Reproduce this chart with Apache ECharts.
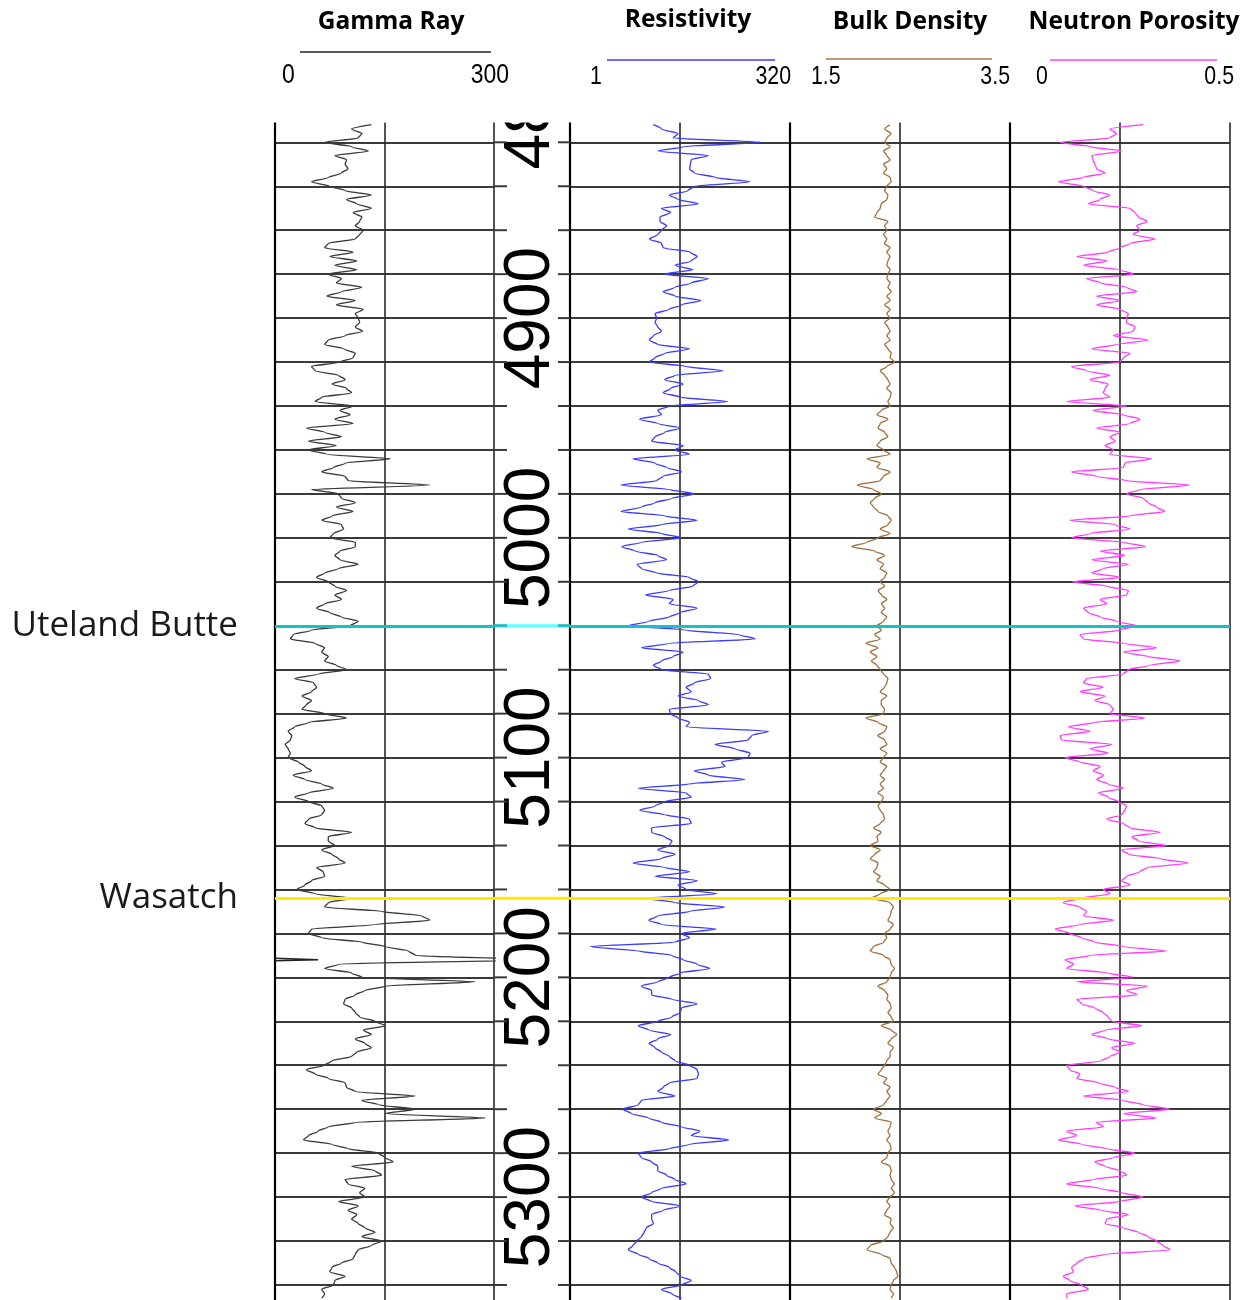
<!DOCTYPE html>
<html><head><meta charset="utf-8">
<script src="https://cdn.jsdelivr.net/npm/echarts@6/dist/echarts.min.js"></script>
<style>html,body{margin:0;padding:0;background:#fff}#c{width:1251px;height:1300px}</style>
</head><body><div id="c"></div>
<script>
// ---- data ----
const DEPTH_START = 4812, DEPTH_STEP = 2;   // ft, sampling of the curves below
const GR = [
132,105,119,114,68,105,128,82,98,96,
100,91,73,50,75,96,132,98,112,132,
107,119,116,110,121,116,110,73,68,107,
75,112,82,112,73,91,84,119,91,71,
110,84,121,110,114,116,110,120,96,73,
68,94,110,107,89,50,55,87,96,78,
98,105,64,55,107,89,103,82,107,43,
68,91,46,84,46,71,158,96,80,64,
96,100,212,50,87,91,110,84,107,78,
64,91,94,80,75,110,110,89,82,89,
114,87,68,57,73,82,98,82,91,68,
57,75,91,114,103,50,25,21,55,68,
64,73,68,84,98,59,27,53,57,50,
37,50,43,37,68,98,46,27,18,23,
21,14,18,21,18,32,41,50,25,41,
64,80,46,27,46,64,68,64,46,41,
55,105,73,73,82,64,78,87,96,57,
66,68,50,41,30,55,105,73,68,146,
201,212,137,50,46,64,119,151,183,192,
359,87,68,105,119,274,151,123,110,96,
94,105,110,116,137,151,121,132,110,123,
132,112,105,78,68,43,55,73,96,98,
110,192,119,142,192,151,288,110,73,59,
46,39,78,100,142,151,162,105,137,146,
96,100,123,116,123,87,114,100,112,105,
114,123,137,119,146,132,114,110,107,91,
78,75,96,82,80,64,68,64];
const RES = [
8.9,11,17,15,150,20,10,37.6,24,23.5,
23,26,45,112,26,22,13.5,17,29,11,
14,10.6,10.6,12.6,11,10,8,11,11.5,23.5,
28,24,15.7,25,12,37.6,24,15.7,11.5,15.7,
31,18.6,13.5,9.3,9.7,9.3,10,11,8.9,8,
10,23,12,9.3,8,21,55,15.7,12,19.5,
14,11.5,18,62,13.5,10,11,6.2,10,18,
12,9.3,8.5,19.5,15.7,23,5.2,9.3,12.6,18.6,
11.5,9.7,3.8,13.5,26,14.5,9.3,6.5,3.8,12,
28,11,4.6,11,18.6,6.5,3.9,5.5,10,12.6,
5.8,6.5,9.7,23,29,25,13.5,7.2,15,13.5,
28,18,13.5,7.9,4.6,21,83,128,13.5,6.5,
19.5,15,11,8.9,11,37.6,40,26,21,24,
17,29,37.6,13.5,14,17,23,21,182,117,
107,45,76,112,107,53,58,26,37.6,98,
23,6,21,24,12,9.3,6.2,12,23,24,
8.5,8.5,12,14.5,13.5,10,15.7,11,5.2,12,
23,9.3,28,17,21,47,7.2,15.7,58,23,
10,7.9,11,46,18.6,23,15.7,1.7,6,14.5,
19.5,28,39,18,13.5,10,6.5,8.5,8.5,14.5,
28,18.6,18,14.5,10,6,7.9,14,10,8,
9.3,11,13.5,15.7,23,28,29,28,13.5,11.5,
10,15.7,6.5,6,4,5,7.9,11,18.6,30,
24,64,23,13.5,6,6.5,8.5,10,10,12.6,
15.7,21,11,8.5,6.5,8.5,18,11.5,8.5,8.5,
8.9,7.4,7,6.5,5.8,5.2,4.6,6,8,10,
13.5,16,18,24,18.6,11,14.5,18.6];
const RHOB = [
2.41,2.36,2.42,2.38,2.36,2.41,2.35,2.38,2.41,2.35,
2.38,2.35,2.41,2.42,2.38,2.36,2.39,2.38,2.33,2.32,
2.29,2.27,2.39,2.36,2.38,2.35,2.38,2.36,2.41,2.38,
2.41,2.39,2.38,2.41,2.39,2.38,2.41,2.39,2.42,2.38,
2.41,2.36,2.41,2.38,2.41,2.36,2.39,2.41,2.38,2.41,
2.36,2.39,2.42,2.41,2.45,2.38,2.32,2.36,2.39,2.41,
2.38,2.42,2.41,2.39,2.41,2.33,2.29,2.39,2.32,2.30,
2.36,2.39,2.32,2.29,2.35,2.41,2.20,2.32,2.29,2.41,
2.35,2.32,2.11,2.26,2.33,2.27,2.23,2.26,2.30,2.39,
2.42,2.39,2.32,2.41,2.30,2.20,2.06,2.27,2.36,2.29,
2.35,2.32,2.38,2.36,2.32,2.36,2.30,2.33,2.38,2.33,
2.36,2.33,2.38,2.35,2.29,2.33,2.27,2.32,2.19,2.30,
2.23,2.29,2.24,2.29,2.32,2.35,2.39,2.38,2.36,2.32,
2.38,2.33,2.33,2.36,2.35,2.19,2.30,2.38,2.36,2.30,
2.36,2.38,2.32,2.38,2.35,2.32,2.38,2.35,2.32,2.36,
2.32,2.35,2.30,2.35,2.33,2.30,2.32,2.35,2.36,2.32,
2.26,2.33,2.29,2.30,2.23,2.32,2.27,2.23,2.30,2.29,
2.26,2.32,2.29,2.36,2.41,2.32,2.24,2.41,2.44,2.42,
2.41,2.39,2.44,2.41,2.36,2.38,2.35,2.26,2.23,2.35,
2.41,2.42,2.45,2.42,2.41,2.38,2.30,2.36,2.39,2.38,
2.41,2.42,2.39,2.42,2.44,2.33,2.42,2.47,2.42,2.39,
2.44,2.41,2.41,2.38,2.36,2.33,2.30,2.38,2.35,2.41,
2.38,2.41,2.38,2.35,2.26,2.33,2.27,2.42,2.41,2.39,
2.41,2.38,2.41,2.42,2.39,2.38,2.33,2.41,2.42,2.41,
2.42,2.45,2.42,2.45,2.41,2.38,2.41,2.38,2.36,2.42,
2.41,2.44,2.41,2.39,2.35,2.23,2.20,2.33,2.41,2.42,
2.45,2.47,2.48,2.44,2.42,2.41,2.44,2.42];
const NPHI = [
.303,.227,.242,.227,.114,.182,.254,.186,.189,.193,
.197,.216,.167,.110,.167,.189,.227,.205,.178,.273,
.284,.292,.311,.288,.295,.280,.330,.273,.250,.223,
.152,.220,.167,.250,.280,.174,.205,.265,.288,.197,
.250,.197,.250,.269,.265,.265,.284,.280,.235,.314,
.242,.186,.273,.258,.250,.140,.174,.227,.182,.223,
.216,.212,.227,.129,.265,.189,.258,.295,.273,.197,
.250,.227,.239,.216,.235,.227,.322,.261,.258,.140,
.197,.265,.409,.295,.265,.303,.314,.333,.352,.273,
.136,.239,.273,.182,.140,.258,.307,.205,.261,.186,
.269,.212,.186,.250,.142,.220,.269,.265,.205,.220,
.167,.178,.205,.242,.288,.250,.159,.167,.258,.333,
.258,.314,.386,.318,.269,.258,.174,.167,.212,.159,
.216,.193,.227,.235,.227,.307,.193,.133,.182,.114,
.117,.231,.182,.223,.125,.159,.205,.189,.212,.197,
.223,.258,.201,.223,.246,.265,.261,.254,.220,.258,
.273,.341,.277,.292,.356,.254,.269,.341,.405,.311,
.295,.265,.254,.273,.212,.227,.159,.121,.159,.174,
.167,.235,.159,.102,.136,.163,.193,.258,.356,.182,
.125,.144,.129,.220,.280,.152,.311,.265,.288,.152,
.163,.193,.212,.223,.231,.299,.216,.186,.223,.284,
.231,.250,.227,.208,.129,.136,.159,.152,.201,.239,
.269,.167,.258,.303,.362,.258,.333,.197,.212,.129,
.152,.110,.163,.220,.284,.235,.193,.216,.250,.265,
.189,.129,.205,.254,.303,.250,.148,.208,.269,.220,
.216,.258,.292,.314,.333,.348,.364,.216,.167,.152,
.140,.144,.121,.136,.163,.178,.129,.129];

const GR_SCALE = [0, 300];
const RES_SCALE = [1, 320];
const RHOB_SCALE = [1.5, 3.5];
const NPHI_SCALE = [0, 0.5];
const TRACK_TITLES = ['Gamma Ray', 'Resistivity', 'Bulk Density', 'Neutron Porosity'];
const DEPTH_TICKS = [4800,4820,4840,4860,4880,4900,4920,4940,4960,4980,5000,5020,5040,5060,5080,
  5100,5120,5140,5160,5180,5200,5220,5240,5260,5280,5300,5320,5340,5360];
const DEPTH_LABEL_EVERY = 100;
const TOPS_NAME = ['Uteland Butte', 'Wasatch'];
const TOPS_DEPTH = [5040, 5164];

// ---- styling / layout ----
const TOPS_COLOR = ['#17c2c6', '#ffec00'];
const TOPS_GAP_COLOR = ['#5cffff', '#ffec00'];
const Y_MIN = 4800, Y_MAX = 5360;
const GRID_TOP = 98.35, GRID_H = 1230.6;
const TRACKS = [
  {left: 275, width: 219},
  {left: 494, width: 76},
  {left: 570, width: 220},
  {left: 790, width: 220},
  {left: 1010, width: 220}
];
const GRID_COLOR = '#3a3a3a';
const SMOOTH = 0.25;

const DEPTH = GR.map((_, i) => DEPTH_START + i * DEPTH_STEP);

function frameX(gi) {
  return {gridIndex: gi, type: 'value', min: 0, max: 2, interval: 1, position: 'top',
    axisLine: {show: false}, axisTick: {show: false}, axisLabel: {show: false},
    splitLine: {show: true, lineStyle: {color: '#2a2a2a', width: 1.6}}};
}
function dataX(gi, type, scale) {
  const a = {gridIndex: gi, type: type, min: scale[0], max: scale[1], position: 'bottom', show: false};
  if (type === 'log') a.logBase = 10;
  return a;
}
function yA(gi, isTrack) {
  return {gridIndex: gi, type: 'value', inverse: true, min: Y_MIN, max: Y_MAX, interval: 20,
    axisLabel: {show: false}, axisTick: {show: false},
    axisLine: {show: isTrack, onZero: false, lineStyle: {color: '#000', width: 2.2}},
    splitLine: {show: isTrack, lineStyle: {color: GRID_COLOR, width: 2}}};
}
function topsMark(withLabels) {
  return {
    silent: true, symbol: ['none', 'none'], animation: false, precision: 4,
    label: {show: withLabels, position: 'start', formatter: '{b}', distance: 37,
      fontFamily: '"Open Sans", "Noto Sans", sans-serif', fontSize: 35, color: '#1a1a1a',
      padding: [0, 0, 8, 0]},
    emphasis: {disabled: true},
    data: TOPS_DEPTH.map((d, i) => ({name: TOPS_NAME[i], yAxis: d,
      lineStyle: {color: TOPS_COLOR[i], width: 3, type: 'solid'}}))
  };
}
function curve(name, xi, yi, vals, color, width, labels) {
  return {name: name, type: 'line', xAxisIndex: xi, yAxisIndex: yi,
    data: vals.map((v, i) => [v, DEPTH[i]]), showSymbol: false, symbol: 'none',
    smooth: SMOOTH, smoothMonotone: 'y',
    lineStyle: {color: color, width: width}, silent: true, animation: false, z: 3,
    clip: true, markLine: topsMark(labels)};
}

// gamma-ray backup (wrap-around) curve for values above the scale maximum
const GR_WRAP = [];
for (let i = 0; i < GR.length; i++) {
  if (GR[i] > GR_SCALE[1]) {
    if (i > 0 && GR[i - 1] <= GR_SCALE[1]) {
      const t = (GR_SCALE[1] - GR[i - 1]) / (GR[i] - GR[i - 1]);
      GR_WRAP.push([0, DEPTH[i - 1] + t * (DEPTH[i] - DEPTH[i - 1])]);
    }
    GR_WRAP.push([GR[i] - GR_SCALE[1], DEPTH[i]]);
    if (i < GR.length - 1 && GR[i + 1] <= GR_SCALE[1]) {
      const t = (GR[i] - GR_SCALE[1]) / (GR[i] - GR[i + 1]);
      GR_WRAP.push([0, DEPTH[i] + t * (DEPTH[i + 1] - DEPTH[i])]);
    }
  }
}

const TITLE_FONT = '"Open Sans", "Noto Sans", sans-serif';
const NUM_FONT = '"Liberation Sans", Arial, sans-serif';
const header = [
  {type: 'rect', shape: {x: 0, y: 0, width: 1251, height: 122.5}, style: {fill: '#fff'}, z: 100, silent: true}
];
const titlePos = [[391, 22], [688, 20], [910, 22], [1134, 22]];
TRACK_TITLES.forEach((t, i) => header.push({type: 'text', x: titlePos[i][0], y: titlePos[i][1], z: 101,
  style: {text: t, fontFamily: TITLE_FONT, fontWeight: 'bold', fontSize: 24.5, fill: '#000', align: 'center', verticalAlign: 'middle'}}));
const under = [[300, 491, 52, '#222'], [607, 775, 60, '#3b3bff'], [826, 992, 59, '#a37a55'], [1050, 1217, 60, '#ff44ff']];
under.forEach(u => header.push({type: 'line', z: 101, shape: {x1: u[0], y1: u[2], x2: u[1], y2: u[2]}, style: {stroke: u[3], lineWidth: 1.5}}));
const scales = [GR_SCALE, RES_SCALE, RHOB_SCALE, NPHI_SCALE];
const scalePos = [[282, 509, 75, 28], [590, 791, 77, 26], [811, 1010, 77, 26], [1036, 1234, 77, 26]];
scales.forEach((s, i) => {
  const p = scalePos[i];
  header.push({type: 'text', x: p[0], y: p[2], z: 101, scaleX: 0.82, style: {text: String(s[0]), fontFamily: NUM_FONT, fontSize: p[3], fill: '#000', align: 'left', verticalAlign: 'middle'}});
  header.push({type: 'text', x: p[1], y: p[2], z: 101, scaleX: 0.82, style: {text: String(s[1]), fontFamily: NUM_FONT, fontSize: p[3], fill: '#000', align: 'right', verticalAlign: 'middle'}});
});
const n = GR.length;
if (RES.length !== n || RHOB.length !== n || NPHI.length !== n) {
  header.push({type: 'text', x: 20, y: 110, z: 102, style: {text: 'LEN ' + [GR.length, RES.length, RHOB.length, NPHI.length].join(','), fill: 'red', fontSize: 14}});
}

const chart = echarts.init(document.getElementById('c'), null, {renderer: 'canvas'});
chart.setOption({
  animation: false,
  backgroundColor: '#fff',
  grid: TRACKS.map(t => ({left: t.left, width: t.width, top: GRID_TOP, height: GRID_H, containLabel: false, outerBoundsMode: 'none'})),
  xAxis: [
    frameX(0), dataX(0, 'value', GR_SCALE),
    {gridIndex: 1, type: 'value', min: 0, max: 1, show: false},
    frameX(2), dataX(2, 'log', RES_SCALE),
    frameX(3), dataX(3, 'value', RHOB_SCALE),
    frameX(4), dataX(4, 'value', NPHI_SCALE)
  ],
  yAxis: [yA(0, true), yA(1, false), yA(2, true), yA(3, true), yA(4, true)],
  series: [
    curve('Gamma Ray', 1, 0, GR, '#3a3a3a', 1.3, true),
    {name: 'Gamma Ray backup', type: 'line', xAxisIndex: 1, yAxisIndex: 0, data: GR_WRAP,
      showSymbol: false, symbol: 'none', lineStyle: {color: '#222', width: 1.6}, silent: true, animation: false, z: 3},
    curve('Resistivity', 4, 2, RES, '#3c3cff', 1.3, false),
    curve('Bulk Density', 6, 3, RHOB, '#a0703e', 1.3, false),
    curve('Neutron Porosity', 8, 4, NPHI, '#ff3cff', 1.3, false),
    {
      type: 'custom', name: 'depth', xAxisIndex: 2, yAxisIndex: 1, silent: true, animation: false, z: 4,
      data: DEPTH_TICKS.map(d => [0.5, d]), encode: {x: 0, y: 1},
      renderItem: function (params, api) {
        const d = api.value(1);
        const y = api.coord([0.5, d])[1];
        const cs = params.coordSys;
        const children = [
          {type: 'line', shape: {x1: cs.x, y1: y, x2: cs.x + 13, y2: y}, style: {stroke: GRID_COLOR, lineWidth: 2}},
          {type: 'line', shape: {x1: cs.x + cs.width - 12, y1: y, x2: cs.x + cs.width, y2: y}, style: {stroke: GRID_COLOR, lineWidth: 2}}
        ];
        if (d % DEPTH_LABEL_EVERY === 0) {
          children.push({type: 'text', x: cs.x + cs.width / 2 - 1, y: y, rotation: Math.PI / 2,
            style: {text: String(d), fontFamily: '"Liberation Sans", Arial, sans-serif', fontSize: 64,
              fill: '#000', align: 'center', verticalAlign: 'middle'}});
        }
        return {type: 'group', children: children};
      }
    },
    {
      type: 'custom', name: 'tops-depth', xAxisIndex: 2, yAxisIndex: 1, silent: true, animation: false, z: 5,
      data: TOPS_DEPTH.map((d, i) => [0.5, d, i]), encode: {x: 0, y: 1},
      renderItem: function (params, api) {
        const d = api.value(1), k = api.value(2);
        const y = api.coord([0.5, d])[1];
        const cs = params.coordSys;
        return {type: 'group', children: [
          {type: 'line', shape: {x1: cs.x, y1: y, x2: cs.x + 13, y2: y}, style: {stroke: TOPS_COLOR[k], lineWidth: 3}},
          {type: 'line', shape: {x1: cs.x + 13, y1: y, x2: cs.x + cs.width - 12, y2: y}, style: {stroke: TOPS_GAP_COLOR[k], lineWidth: 3}},
          {type: 'line', shape: {x1: cs.x + cs.width - 12, y1: y, x2: cs.x + cs.width, y2: y}, style: {stroke: TOPS_COLOR[k], lineWidth: 3}}
        ]};
      }
    }
  ],
  graphic: {elements: header}
});
</script>
</body></html>
